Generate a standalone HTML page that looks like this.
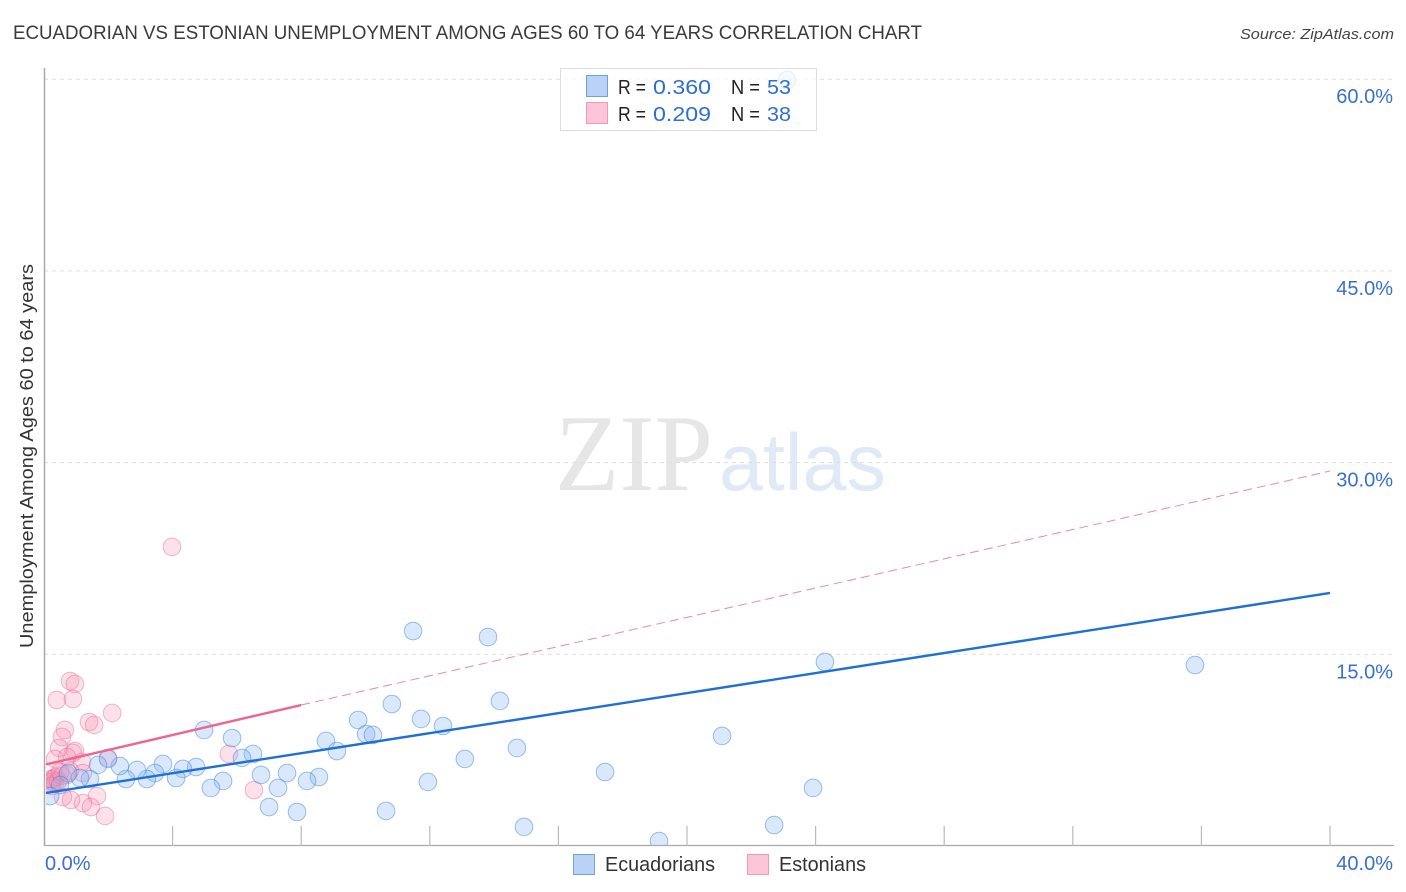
<!DOCTYPE html>
<html lang="en">
<head>
<meta charset="utf-8">
<title>Ecuadorian vs Estonian Unemployment Chart</title>
<style>
html,body{margin:0;padding:0;background:#fff;}
svg{display:block;font-family:"Liberation Sans",sans-serif;}
</style>
</head>
<body>
<svg id="chart" width="1406" height="892" viewBox="0 0 1406 892" xmlns="http://www.w3.org/2000/svg">
  <defs>
    <clipPath id="plot-clip"><rect x="46" y="60" width="1348" height="785"/></clipPath>
  </defs>
  <rect width="1406" height="892" fill="#fff"/>
  <text x="13" y="39" font-size="19" fill="#3a3a3a" textLength="909" lengthAdjust="spacingAndGlyphs">ECUADORIAN VS ESTONIAN UNEMPLOYMENT AMONG AGES 60 TO 64 YEARS CORRELATION CHART</text>
  <text x="1394" y="39" font-size="15" font-style="italic" fill="#444" text-anchor="end" textLength="154" lengthAdjust="spacingAndGlyphs">Source: ZipAtlas.com</text>
  <text x="555" y="490" font-family="'Liberation Serif',serif" font-size="109" fill="#e6e6e6" textLength="158" lengthAdjust="spacingAndGlyphs">ZIP</text>
  <text x="719" y="490" font-size="81" fill="#dfe9f8" textLength="167" lengthAdjust="spacingAndGlyphs">atlas</text>
  <g id="grid"></g>
  <g id="axes"></g>
  <g id="points" clip-path="url(#plot-clip)"></g>
  <g id="lines"></g>
  <text transform="translate(33,456) rotate(-90)" font-size="18.5" fill="#333" text-anchor="middle" textLength="384" lengthAdjust="spacingAndGlyphs">Unemployment Among Ages 60 to 64 years</text>
  <g>
    <rect x="560.5" y="68.5" width="256" height="62" fill="#fff" fill-opacity="0.75" stroke="#ddd"/>
    <rect x="586.5" y="75.5" width="21" height="21" fill="#b9d3f7" stroke="#6fa0e0"/>
    <rect x="586.5" y="102.5" width="21" height="21" fill="#fcc5d8" stroke="#f09ab8"/>
    <g font-size="20.5">
      <text x="618" y="94" fill="#222" textLength="28" lengthAdjust="spacingAndGlyphs">R =</text>
      <text x="653" y="94" fill="#2f6fd0" textLength="58" lengthAdjust="spacingAndGlyphs">0.360</text>
      <text x="731" y="94" fill="#222" textLength="29" lengthAdjust="spacingAndGlyphs">N =</text>
      <text x="767" y="94" fill="#2f6fd0" textLength="24" lengthAdjust="spacingAndGlyphs">53</text>
      <text x="618" y="121" fill="#222" textLength="28" lengthAdjust="spacingAndGlyphs">R =</text>
      <text x="653" y="121" fill="#2f6fd0" textLength="58" lengthAdjust="spacingAndGlyphs">0.209</text>
      <text x="731" y="121" fill="#222" textLength="29" lengthAdjust="spacingAndGlyphs">N =</text>
      <text x="767" y="121" fill="#2f6fd0" textLength="24" lengthAdjust="spacingAndGlyphs">38</text>
    </g>
  </g>
  <g>
    <rect x="573.5" y="854.5" width="21" height="20" fill="#b9d3f7" stroke="#6fa0e0"/>
    <text x="605" y="871" font-size="20" fill="#333" textLength="110" lengthAdjust="spacingAndGlyphs">Ecuadorians</text>
    <rect x="747.5" y="854.5" width="21" height="20" fill="#fcc5d8" stroke="#f09ab8"/>
    <text x="779" y="871" font-size="20" fill="#333" textLength="87" lengthAdjust="spacingAndGlyphs">Estonians</text>
  </g>
</svg>
<script>
const yTickValues = [15, 30, 45, 60];
const yTickLabels = ["15.0%", "30.0%", "45.0%", "60.0%"];
const xTickValues = [0, 4, 8, 12, 16, 20, 24, 28, 32, 36, 40];
const xEndLabels = ["0.0%", "40.0%"];
const ecuadorianX = [35.80,24.29,11.48,13.81,23.11,10.82,14.18,9.77,11.73,12.41,10.02,10.23,8.77,9.11,14.71,21.09,13.09,17.45,23.92,11.94,4.98,5.85,6.50,6.16,6.75,7.56,8.55,8.18,7.28,7.00,7.87,10.64,14.93,19.13,22.71,5.57,5.19,4.73,4.32,4.11,3.70,3.45,3.20,2.89,2.55,2.36,1.99,1.68,1.43,1.12,0.75,0.50,0.19];
const ecuadorianY = [14.16,14.40,16.82,16.35,59.94,11.11,11.35,9.86,9.94,9.39,8.76,8.69,8.22,7.43,7.67,8.61,6.81,5.79,4.54,5.01,9.08,8.45,7.20,6.89,5.56,5.71,5.40,5.09,4.54,3.05,2.66,2.74,1.49,0.39,1.64,5.09,4.54,6.18,6.03,5.32,6.42,5.71,5.24,5.95,5.24,6.26,6.81,6.34,5.24,5.32,5.71,4.77,3.91];
const estonianX = [3.98,0.81,0.96,0.40,0.90,2.12,1.40,1.56,0.65,0.56,0.47,0.96,0.90,0.72,0.34,1.18,1.21,0.72,5.75,6.53,1.65,1.21,1.46,1.90,0.84,0.59,0.28,0.31,0.25,0.34,0.37,0.22,0.44,0.25,0.56,0.81,1.99,0.50];
const estonianY = [23.40,12.91,12.68,11.42,11.50,10.41,9.70,9.47,9.08,8.53,7.67,7.43,7.28,6.96,6.81,6.57,5.71,5.56,7.20,4.38,3.91,3.36,3.05,2.35,3.60,3.83,5.16,5.32,5.01,4.93,5.40,5.24,5.09,4.69,5.48,5.87,6.89,5.79];
const ecuadorianTrendX = [0.06, 40];
const ecuadorianTrendY = [4.15, 19.8];
const estonianSolidX = [0.06, 8];
const estonianSolidY = [6.38, 11.03];
const estonianDashX = [8, 40];
const estonianDashY = [11.03, 29.34];

const NS = "http://www.w3.org/2000/svg";
const xScale = v => 44 + v * 32.15;
const yScale = v => 846 - v * 12.78;
function make(tag, attrs, parent) {
  const el = document.createElementNS(NS, tag);
  for (const k in attrs) el.setAttribute(k, attrs[k]);
  parent.appendChild(el);
  return el;
}
const grid = document.getElementById("grid");
const axes = document.getElementById("axes");
const points = document.getElementById("points");
const lines = document.getElementById("lines");

yTickValues.forEach((v, i) => {
  const line = make("line", {x1: 44, x2: 1394, y1: yScale(v), y2: yScale(v), stroke: "#ddd", "stroke-width": 1, "stroke-dasharray": "4 4"}, grid);
  
  
  const label = make("text", {x: 1393, y: yScale(v) + 24, "font-size": 20, fill: "#3a6fd2", "text-anchor": "end"}, axes);
  
  
  label.textContent = yTickLabels[i];
});

const yAxis = make("line", {x1: 44.5, x2: 44.5, y1: 68, y2: 846, stroke: "#aaa", "stroke-width": 1.5}, axes);


const xAxis = make("line", {x1: 44, x2: 1394, y1: 845.5, y2: 845.5, stroke: "#aaa", "stroke-width": 1.2}, axes);



xTickValues.forEach(v => {
  if (v === 0) return;
  const tick = make("line", {x1: xScale(v), x2: xScale(v), y1: 826, y2: 846, stroke: "#bbb", "stroke-width": 1.2}, axes);
  
  
});

const xLabelLeft = make("text", {x: 45, y: 870, "font-size": 20, fill: "#3a6fd2"}, axes);


xLabelLeft.textContent = xEndLabels[0];
const xLabelRight = make("text", {x: 1393, y: 870, "font-size": 20, fill: "#3a6fd2", "text-anchor": "end"}, axes);


xLabelRight.textContent = xEndLabels[1];

estonianX.forEach((v, i) => {
  const c = make("circle", {cx: xScale(v), cy: yScale(estonianY[i]), r: 8.8, fill: "#f78fb3", "fill-opacity": 0.27, stroke: "#e8709a", "stroke-opacity": 0.5, "stroke-width": 1}, points);
  
  
});
ecuadorianX.forEach((v, i) => {
  const c = make("circle", {cx: xScale(v), cy: yScale(ecuadorianY[i]), r: 8.8, fill: "#8db8f2", "fill-opacity": 0.33, stroke: "#3f84d8", "stroke-opacity": 0.5, "stroke-width": 1}, points);
  
  
});

const dash = make("line", {x1: xScale(estonianDashX[0]), y1: yScale(estonianDashY[0]), x2: xScale(estonianDashX[1]), y2: yScale(estonianDashY[1]), stroke: "#e88aa8", "stroke-width": 1, "stroke-dasharray": "9 5"}, lines);


const pinkLine = make("line", {x1: xScale(estonianSolidX[0]), y1: yScale(estonianSolidY[0]), x2: xScale(estonianSolidX[1]), y2: yScale(estonianSolidY[1]), stroke: "#ec6593", "stroke-width": 2.4}, lines);


const blueLine = make("line", {x1: xScale(ecuadorianTrendX[0]), y1: yScale(ecuadorianTrendY[0]), x2: xScale(ecuadorianTrendX[1]), y2: yScale(ecuadorianTrendY[1]), stroke: "#1f6fd8", "stroke-width": 2.4}, lines);


</script>
</body>
</html>
